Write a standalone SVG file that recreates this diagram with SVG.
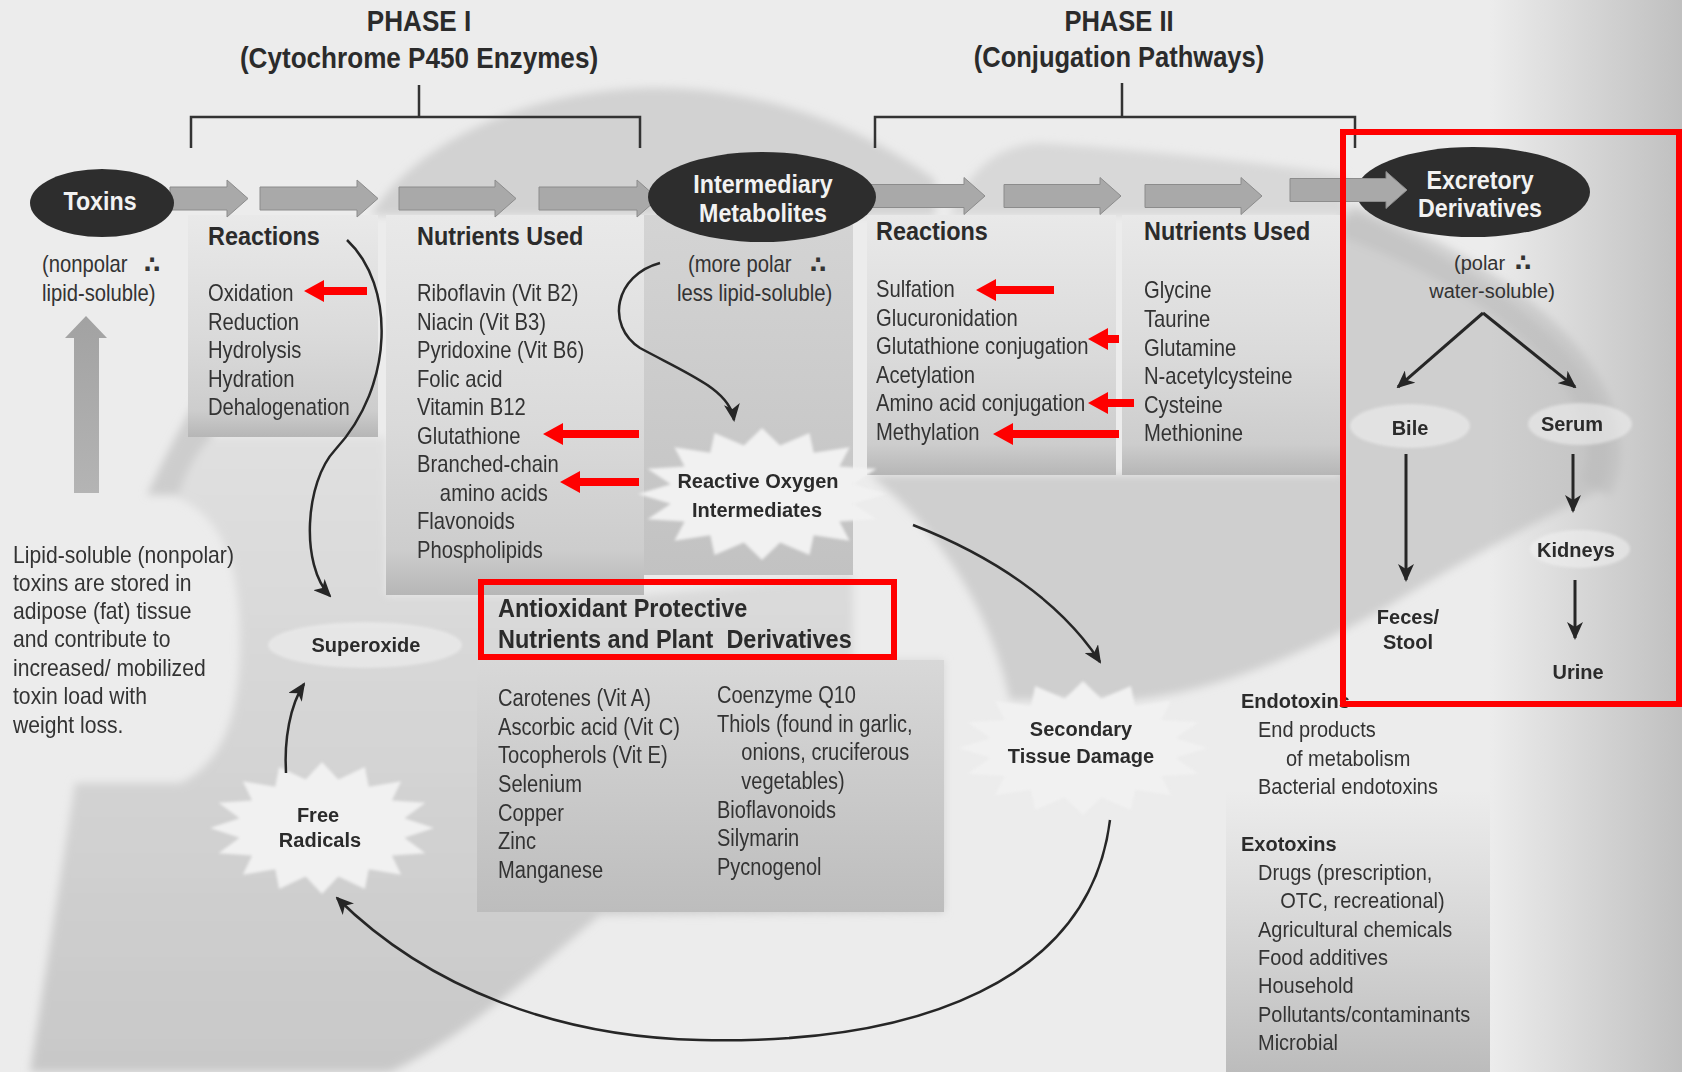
<svg xmlns="http://www.w3.org/2000/svg" width="1682" height="1072" viewBox="0 0 1682 1072">
  <defs>
    <style>
      text { font-family: 'Liberation Sans', Arial, Helvetica, sans-serif; fill: #333; }
      .ttl { font-size: 29px; font-weight: bold; fill: #2b2b2b; }
      .hdr { font-size: 26px; font-weight: bold; fill: #2b2b2b; }
      .lst { font-size: 23px; }
      .sm { font-size: 20px; }
      .wht { font-size: 25px; font-weight: bold; fill: #f2f2f2; }
      .lbl { font-size: 20px; font-weight: bold; fill: #2b2b2b; }
      .dots { font-family: 'DejaVu Sans', sans-serif; font-size: 24px; font-weight: bold; fill: #333; }
      .blk { fill: #a9a9a9; stroke: #8c8c8c; stroke-width: 1; }
      .red { fill: #ff0000; }
      .box { fill: none; stroke: #ff0000; stroke-width: 6; }
      .brk { fill: none; stroke: #333; stroke-width: 2.5; }
      .conn { fill: none; stroke: #262626; stroke-width: 2.5; marker-end: url(#ah); }
      .conn3 { fill: none; stroke: #262626; stroke-width: 3; marker-end: url(#ah); }
      .oval { fill: #2d2d2d; }
      .halo { fill: #f2f2f2; opacity: 0.55; }
      .burst { fill: #f1f1f1; }
    </style>
    <filter id="soft" x="-5%" y="-5%" width="110%" height="110%">
      <feGaussianBlur stdDeviation="4"/>
    </filter>
    <filter id="soft1" x="-5%" y="-5%" width="110%" height="110%">
      <feGaussianBlur stdDeviation="1.5"/>
    </filter>
    <marker id="ah" markerUnits="userSpaceOnUse" markerWidth="18" markerHeight="16" viewBox="0 0 18 16" refX="16" refY="8" orient="auto">
      <path d="M0,0 L18,8 L0,16 L5,8 Z" fill="#262626"/>
    </marker>
    <linearGradient id="colg" x1="0" y1="0" x2="0" y2="1">
      <stop offset="0" stop-color="#e9e9e9"/>
      <stop offset="0.55" stop-color="#dadada"/>
      <stop offset="0.88" stop-color="#cdcdcd"/>
      <stop offset="1" stop-color="#b6b6b6"/>
    </linearGradient>
    <linearGradient id="colm" x1="0" y1="0" x2="0" y2="1">
      <stop offset="0" stop-color="#d4d4d4"/>
      <stop offset="1" stop-color="#c2c2c2"/>
    </linearGradient>
    <linearGradient id="lobe" x1="0" y1="0" x2="0" y2="1">
      <stop offset="0" stop-color="#e0e0e0"/>
      <stop offset="1" stop-color="#c8c8c8"/>
    </linearGradient>
    <linearGradient id="anti" x1="0" y1="0" x2="0" y2="1">
      <stop offset="0" stop-color="#d8d8d8"/>
      <stop offset="1" stop-color="#bdbdbd"/>
    </linearGradient>
    <linearGradient id="exo" x1="0" y1="0" x2="0" y2="1">
      <stop offset="0" stop-color="#c4c4c4" stop-opacity="0"/>
      <stop offset="1" stop-color="#bcbcbc" stop-opacity="1"/>
    </linearGradient>
    <linearGradient id="vig" x1="0" y1="0" x2="1" y2="0">
      <stop offset="0" stop-color="#b8b8b8" stop-opacity="0"/>
      <stop offset="1" stop-color="#b8b8b8" stop-opacity="0.85"/>
    </linearGradient>
    <linearGradient id="upg" x1="0" y1="0" x2="0" y2="1">
      <stop offset="0" stop-color="#a2a2a2"/>
      <stop offset="1" stop-color="#b4b4b4"/>
    </linearGradient>
    <path id="burst" d="M100,0 L73.6,14.6 L92.4,38.3 L62.4,41.7 L70.7,70.7 L41.7,62.4 L38.3,92.4 L14.6,73.6 L0,100 L-14.6,73.6 L-38.3,92.4 L-41.7,62.4 L-70.7,70.7 L-62.4,41.7 L-92.4,38.3 L-73.6,14.6 L-100,0 L-73.6,-14.6 L-92.4,-38.3 L-62.4,-41.7 L-70.7,-70.7 L-41.7,-62.4 L-38.3,-92.4 L-14.6,-73.6 L0,-100 L14.6,-73.6 L38.3,-92.4 L41.7,-62.4 L70.7,-70.7 L62.4,-41.7 L92.4,-38.3 L73.6,-14.6 Z"/>
  </defs>

  <!-- paper -->
  <rect width="1682" height="1072" fill="#ececec"/>

  <!-- liver silhouette and shaded panels -->
  <g id="backdrop">
    <g filter="url(#soft)">
      <path d="M371 215 C420 135 540 88 657 88 C760 88 860 125 935 180 L935 215 Z" fill="#d2d2d2"/>
      <path d="M950 215 C972 165 1000 145 1040 143 C1150 150 1280 165 1345 175 L1345 215 Z" fill="#d8d8d8"/>
      <path d="M200 437 L386 437 L386 595 L644 595 L853 575 L853 660 L944 660 L944 912 L600 915 C540 965 470 1035 390 1072 L30 1072 L75 783 L180 783 C230 760 240 700 240 640 C240 560 220 515 176 497 Z" fill="url(#lobe)"/>
      <path d="M205 385 Q172 440 147 495 L178 495 Q192 455 212 437 Z" fill="#cdcdcd"/>
      <path d="M870 475 L1341 475 L1341 215 L1360 215 C1450 255 1560 320 1598 400 C1614 440 1612 470 1600 490 C1500 540 1430 580 1390 605 C1330 640 1230 690 1133 700 L1010 700 C990 610 940 530 870 475 Z" fill="#cfcfcf"/>
      <path d="M1345 220 C1450 258 1555 322 1593 402 C1608 440 1606 468 1595 488" fill="none" stroke="#bebebe" stroke-width="34" opacity="0.6"/>
    </g>
    <rect x="188" y="215" width="190" height="222" fill="url(#colg)"/>
    <rect x="386" y="215" width="258" height="380" fill="url(#colg)"/>
    <rect x="644" y="215" width="209" height="360" fill="url(#colm)"/>
    <rect x="867" y="215" width="249" height="260" fill="url(#colg)"/>
    <rect x="1122" y="215" width="219" height="260" fill="url(#colg)"/>
    <rect x="477" y="660" width="467" height="252" fill="url(#anti)"/>
    <rect x="1226" y="790" width="264" height="282" fill="url(#exo)"/>
    <rect x="1490" y="0" width="192" height="1072" fill="url(#vig)"/>
    <path d="M74 493 V338 H65 L86 316 L107 338 H99 V493 Z" fill="url(#upg)"/>
    <g filter="url(#soft1)">
      <use href="#burst" class="burst" transform="translate(322 828) scale(1.12 0.66)"/>
      <use href="#burst" class="burst" transform="translate(762 494) scale(1.24 0.66)"/>
      <use href="#burst" class="burst" transform="translate(1083 748) scale(1.25 0.67)"/>
      <ellipse class="halo" cx="365" cy="645" rx="97" ry="23"/>
      <ellipse class="halo" cx="1410" cy="426" rx="60" ry="22"/>
      <ellipse class="halo" cx="1580" cy="424" rx="52" ry="21"/>
      <ellipse class="halo" cx="1580" cy="549" rx="50" ry="19"/>
    </g>
  </g>

  <!-- phase headings and brackets -->
  <g id="phase1-title" transform="translate(419 0) scale(0.9 1)">
    <text class="ttl" x="0" y="31" text-anchor="middle">PHASE I</text>
    <text class="ttl" x="0" y="68" text-anchor="middle">(Cytochrome P450 Enzymes)</text>
  </g>
  <g id="phase2-title" transform="translate(1119 0) scale(0.88 1)">
    <text class="ttl" x="0" y="31" text-anchor="middle">PHASE II</text>
    <text class="ttl" x="0" y="67" text-anchor="middle">(Conjugation Pathways)</text>
  </g>
  <g id="brackets">
    <path class="brk" d="M419 85 V117 M191 148 V117 H640 V148"/>
    <path class="brk" d="M1122 83 V117 M875 148 V117 H1355 V148"/>
  </g>

  <!-- main flow: block arrows -->
  <g id="flow-arrows">
    <path class="blk" d="M170 187 H227 V180 L248 198.5 L227 217 V210 H170 Z"/>
    <path class="blk" d="M260 187 H357 V180 L378 198.5 L357 217 V210 H260 Z"/>
    <path class="blk" d="M399 187 H495 V180 L516 198.5 L495 217 V210 H399 Z"/>
    <path class="blk" d="M539 187 H637 V180 L658 198.5 L637 217 V210 H539 Z"/>
    <path class="blk" d="M868 184.5 H964 V177.5 L985 196 L964 214.5 V207.5 H868 Z"/>
    <path class="blk" d="M1004 184.5 H1100 V177.5 L1121 196 L1100 214.5 V207.5 H1004 Z"/>
    <path class="blk" d="M1145 184.5 H1241 V177.5 L1262 196 L1241 214.5 V207.5 H1145 Z"/>
  </g>

  <!-- dark nodes -->
  <g id="node-toxins">
    <ellipse class="oval" cx="102" cy="203" rx="72" ry="34"/>
    <g transform="translate(100 0) scale(0.93 1)"><text class="wht" x="0" y="210" text-anchor="middle">Toxins</text></g>
  </g>
  <g id="node-intermediary">
    <ellipse class="oval" cx="762" cy="197" rx="114" ry="45"/>
    <g transform="translate(763 0) scale(0.93 1)">
      <text class="wht" x="0" y="193" text-anchor="middle">Intermediary</text>
      <text class="wht" x="0" y="222" text-anchor="middle">Metabolites</text>
    </g>
  </g>
  <g id="node-excretory">
    <ellipse class="oval" cx="1473" cy="192" rx="117" ry="45"/>
    <path class="blk" d="M1290 178.5 H1386 V171.5 L1407 190 L1386 208.5 V201.5 H1290 Z"/>
    <g transform="translate(1480 0) scale(0.93 1)">
      <text class="wht" x="0" y="189" text-anchor="middle">Excretory</text>
      <text class="wht" x="0" y="217" text-anchor="middle">Derivatives</text>
    </g>
  </g>

  <!-- polarity notes -->
  <g id="note-toxins">
    <g transform="translate(42 0) scale(0.88 1)">
      <text class="lst" x="0" y="272">(nonpolar</text>
      <text class="lst" x="0" y="301">lipid-soluble)</text>
    </g>
    <text class="dots" x="152" y="273" text-anchor="middle">∴</text>
  </g>
  <g id="note-intermediary">
    <g transform="translate(688 0) scale(0.88 1)">
      <text class="lst" x="0" y="272">(more polar</text>
      <text class="lst" x="-12.5" y="301">less lipid-soluble)</text>
    </g>
    <text class="dots" x="818" y="273" text-anchor="middle">∴</text>
  </g>
  <g id="note-excretory">
    <text class="sm" x="1454" y="270">(polar</text>
    <text class="dots" x="1523" y="271" text-anchor="middle">∴</text>
    <text class="sm" x="1492" y="298" text-anchor="middle">water-soluble)</text>
  </g>

  <!-- Phase I columns -->
  <g id="phase1-reactions">
    <g transform="translate(208 0) scale(0.9 1)"><text class="hdr" x="0" y="245">Reactions</text></g>
    <g transform="translate(208 0) scale(0.88 1)">
      <text class="lst" x="0" y="301">Oxidation</text>
      <text class="lst" x="0" y="330">Reduction</text>
      <text class="lst" x="0" y="358">Hydrolysis</text>
      <text class="lst" x="0" y="387">Hydration</text>
      <text class="lst" x="0" y="415">Dehalogenation</text>
    </g>
  </g>
  <g id="phase1-nutrients">
    <g transform="translate(417 0) scale(0.9 1)"><text class="hdr" x="0" y="245">Nutrients Used</text></g>
    <g transform="translate(417 0) scale(0.88 1)">
      <text class="lst" x="0" y="301">Riboflavin (Vit B2)</text>
      <text class="lst" x="0" y="330">Niacin (Vit B3)</text>
      <text class="lst" x="0" y="358">Pyridoxine (Vit B6)</text>
      <text class="lst" x="0" y="387">Folic acid</text>
      <text class="lst" x="0" y="415">Vitamin B12</text>
      <text class="lst" x="0" y="444">Glutathione</text>
      <text class="lst" x="0" y="472">Branched-chain</text>
      <text class="lst" x="26" y="501">amino acids</text>
      <text class="lst" x="0" y="529">Flavonoids</text>
      <text class="lst" x="0" y="558">Phospholipids</text>
    </g>
  </g>

  <!-- Phase II columns -->
  <g id="phase2-reactions">
    <g transform="translate(876 0) scale(0.9 1)"><text class="hdr" x="0" y="240">Reactions</text></g>
    <g transform="translate(876 0) scale(0.88 1)">
      <text class="lst" x="0" y="297">Sulfation</text>
      <text class="lst" x="0" y="326">Glucuronidation</text>
      <text class="lst" x="0" y="354">Glutathione conjugation</text>
      <text class="lst" x="0" y="383">Acetylation</text>
      <text class="lst" x="0" y="411">Amino acid conjugation</text>
      <text class="lst" x="0" y="440">Methylation</text>
    </g>
  </g>
  <g id="phase2-nutrients">
    <g transform="translate(1144 0) scale(0.9 1)"><text class="hdr" x="0" y="240">Nutrients Used</text></g>
    <g transform="translate(1144 0) scale(0.88 1)">
      <text class="lst" x="0" y="298">Glycine</text>
      <text class="lst" x="0" y="327">Taurine</text>
      <text class="lst" x="0" y="356">Glutamine</text>
      <text class="lst" x="0" y="384">N-acetylcysteine</text>
      <text class="lst" x="0" y="413">Cysteine</text>
      <text class="lst" x="0" y="441">Methionine</text>
    </g>
  </g>

  <!-- adipose storage note -->
  <g id="note-adipose" transform="translate(13 0) scale(0.92 1)">
    <text class="lst" x="0" y="563">Lipid-soluble (nonpolar)</text>
    <text class="lst" x="0" y="591">toxins are stored in</text>
    <text class="lst" x="0" y="619">adipose (fat) tissue</text>
    <text class="lst" x="0" y="647">and contribute to</text>
    <text class="lst" x="0" y="676">increased/ mobilized</text>
    <text class="lst" x="0" y="704">toxin load with</text>
    <text class="lst" x="0" y="733">weight loss.</text>
  </g>

  <!-- oxidative stress nodes -->
  <g id="node-superoxide">
    <text class="lbl" x="366" y="652" text-anchor="middle">Superoxide</text>
  </g>
  <g id="node-free-radicals">
    <text class="lbl" x="318" y="822" text-anchor="middle">Free</text>
    <text class="lbl" x="320" y="847" text-anchor="middle">Radicals</text>
  </g>
  <g id="node-reactive-oxygen">
    <text class="lbl" x="758" y="488" text-anchor="middle">Reactive Oxygen</text>
    <text class="lbl" x="757" y="517" text-anchor="middle">Intermediates</text>
  </g>
  <g id="node-tissue-damage">
    <text class="lbl" x="1081" y="736" text-anchor="middle">Secondary</text>
    <text class="lbl" x="1081" y="763" text-anchor="middle">Tissue Damage</text>
  </g>

  <!-- antioxidant panel -->
  <g id="node-antioxidants">
    <g transform="translate(498 0) scale(0.94 1)">
      <text class="hdr" x="0" y="617" style="font-size:25px">Antioxidant Protective</text>
      <text class="hdr" x="0" y="648" style="font-size:25px" xml:space="preserve">Nutrients and Plant  Derivatives</text>
    </g>
    <g transform="translate(498 0) scale(0.875 1)">
      <text class="lst" x="0" y="706">Carotenes (Vit A)</text>
      <text class="lst" x="0" y="735">Ascorbic acid (Vit C)</text>
      <text class="lst" x="0" y="763">Tocopherols (Vit E)</text>
      <text class="lst" x="0" y="792">Selenium</text>
      <text class="lst" x="0" y="821">Copper</text>
      <text class="lst" x="0" y="849">Zinc</text>
      <text class="lst" x="0" y="878">Manganese</text>
    </g>
    <g transform="translate(717 0) scale(0.87 1)">
      <text class="lst" x="0" y="703">Coenzyme Q10</text>
      <text class="lst" x="0" y="732">Thiols (found in garlic,</text>
      <text class="lst" x="28" y="760">onions, cruciferous</text>
      <text class="lst" x="28" y="789">vegetables)</text>
      <text class="lst" x="0" y="818">Bioflavonoids</text>
      <text class="lst" x="0" y="846">Silymarin</text>
      <text class="lst" x="0" y="875">Pycnogenol</text>
    </g>
  </g>

  <!-- toxin sources -->
  <g id="node-toxin-sources">
    <text class="lbl" x="1241" y="708">Endotoxins</text>
    <g transform="translate(1258 0) scale(0.93 1)">
      <text class="lst" x="0" y="737" style="font-size:21.5px">End products</text>
      <text class="lst" x="30" y="766" style="font-size:21.5px">of metabolism</text>
      <text class="lst" x="0" y="794" style="font-size:21.5px">Bacterial endotoxins</text>
    </g>
    <text class="lbl" x="1241" y="851">Exotoxins</text>
    <g transform="translate(1258 0) scale(0.93 1)">
      <text class="lst" x="0" y="880" style="font-size:21.5px">Drugs (prescription,</text>
      <text class="lst" x="24" y="908" style="font-size:21.5px">OTC, recreational)</text>
      <text class="lst" x="0" y="937" style="font-size:21.5px">Agricultural chemicals</text>
      <text class="lst" x="0" y="965" style="font-size:21.5px">Food additives</text>
      <text class="lst" x="0" y="993" style="font-size:21.5px">Household</text>
      <text class="lst" x="0" y="1022" style="font-size:21.5px">Pollutants/contaminants</text>
      <text class="lst" x="0" y="1050" style="font-size:21.5px">Microbial</text>
    </g>
  </g>

  <!-- excretion routes -->
  <g id="node-bile"><text class="lbl" x="1410" y="435" text-anchor="middle">Bile</text></g>
  <g id="node-serum"><text class="lbl" x="1572" y="431" text-anchor="middle">Serum</text></g>
  <g id="node-kidneys"><text class="lbl" x="1576" y="557" text-anchor="middle">Kidneys</text></g>
  <g id="node-feces">
    <text class="lbl" x="1408" y="624" text-anchor="middle">Feces/</text>
    <text class="lbl" x="1408" y="649" text-anchor="middle">Stool</text>
  </g>
  <g id="node-urine"><text class="lbl" x="1578" y="679" text-anchor="middle">Urine</text></g>

  <!-- connectors -->
  <g id="connectors">
    <path class="conn" d="M347 240 C395 285 395 385 335 450 C305 482 300 565 330 596"/>
    <path class="conn" d="M660 263 C615 275 605 325 640 348 C690 375 730 390 734 420"/>
    <path class="conn" d="M913 525 C990 555 1060 600 1100 662"/>
    <path class="conn" d="M1110 820 C1090 980 920 1045 700 1040 C560 1037 430 990 337 898"/>
    <path class="conn" d="M286 773 C284 740 290 705 304 684"/>
    <path class="conn3" d="M1483 313 L1398 387"/>
    <path class="conn3" d="M1483 313 L1575 387"/>
    <path class="conn3" d="M1406 454 V580"/>
    <path class="conn3" d="M1573 454 V511"/>
    <path class="conn3" d="M1575 580 V638"/>
  </g>

  <!-- highlight arrows -->
  <g id="highlight-arrows">
    <path class="red" d="M367 287 H324 V280 L304 291 L324 302 V295 H367 Z"/>
    <path class="red" d="M639 430 H563 V423 L543 434 L563 445 V438 H639 Z"/>
    <path class="red" d="M639 478 H580 V471 L560 482 L580 493 V486 H639 Z"/>
    <path class="red" d="M1054 286 H996 V279 L976 290 L996 301 V294 H1054 Z"/>
    <path class="red" d="M1119 335 H1108 V328 L1088 339 L1108 350 V343 H1119 Z"/>
    <path class="red" d="M1134 399 H1108 V392 L1088 403 L1108 414 V407 H1134 Z"/>
    <path class="red" d="M1119 430 H1013 V423 L993 434 L1013 445 V438 H1119 Z"/>
  </g>

  <!-- highlight boxes -->
  <g id="highlight-boxes">
    <rect class="box" x="481" y="582" width="413" height="75"/>
    <rect class="box" x="1343" y="132" width="336" height="572"/>
  </g>
</svg>
